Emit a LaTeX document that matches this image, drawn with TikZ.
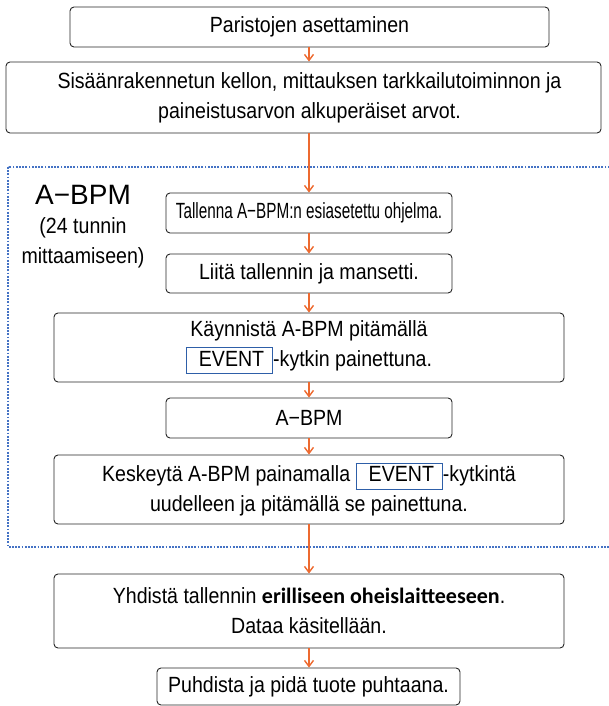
\documentclass[tikz,border=0pt]{standalone}
\usepackage{fontspec}
\setmainfont{Liberation Sans}[FakeStretch=0.89]
\newfontfamily\plainfam{Liberation Sans}
\newfontfamily\boldfam{Carlito}
\usetikzlibrary{arrows.meta}
\definecolor{arr}{RGB}{237,106,48}
\definecolor{dotblue}{RGB}{68,114,196}
\definecolor{evblue}{RGB}{46,95,168}
\newcommand{\evbox}{{\setlength\fboxsep{0pt}\setlength\fboxrule{1pt}\fcolorbox{evblue}{white}{\rule[-7pt]{0pt}{25pt}\hspace{12pt}EVENT\hspace{8pt}}}}
\tikzset{
  box/.style={draw=black!85, line width=0.9pt, rounded corners=4pt, fill=white, align=center, inner sep=0pt, font=\fontsize{22}{30}\selectfont},
  flow/.style={draw=arr, line width=1.6pt, -{Straight Barb[length=6pt,width=9pt,line width=1.4pt]}},
  lbl/.style={align=center, inner sep=0pt}
}
\begin{document}
\begin{tikzpicture}[x=1pt,y=-1pt]
\useasboundingbox (0,0) rectangle (609,706);
\draw[dotblue, line width=2pt, dash pattern=on 1.8pt off 1.4pt] (8,167) rectangle (660,547);

\node[box, minimum width=479pt, minimum height=40pt] (b1) at (309.5,27) {Paristojen asettaminen};
\node[box, minimum width=595pt, minimum height=71pt] (b2) at (303.5,97.5) {\hspace*{12pt}Sisäänrakennetun kellon, mittauksen tarkkailutoiminnon ja\\\hspace*{12pt}paineistusarvon alkuperäiset arvot.};
\node[box, minimum width=286pt, minimum height=40pt] (b3) at (309,213) {\scalebox{0.78}[1]{Tallenna A−BPM:n esiasetettu ohjelma.}};
\node[box, minimum width=286pt, minimum height=39pt] (b4) at (309,273.5) {Liitä tallennin ja mansetti.};
\node[box, minimum width=510pt, minimum height=69pt] (b5) at (309,347.5) {Käynnistä A-BPM pitämällä\\\evbox-kytkin painettuna.};
\node[box, minimum width=286pt, minimum height=40pt] (b6) at (309,418) {A−BPM};
\node[box, minimum width=510pt, minimum height=69pt] (b7) at (309,489.5) {Keskeytä A-BPM painamalla \evbox-kytkintä\\uudelleen ja pitämällä se painettuna.};
\node[box, minimum width=510pt, minimum height=74pt] (b8) at (309,611) {Yhdistä tallennin {\boldfam\bfseries\fontsize{22}{30}\selectfont erilliseen oheislaitteeseen}.\\Dataa käsitellään.};
\node[box, minimum width=303pt, minimum height=37pt] (b9) at (308.5,686.5) {Puhdista ja pidä tuote puhtaana.};

\node[lbl, font=\plainfam\fontsize{28}{30}\selectfont] (t1) at (83,195) {A−BPM};
\node[lbl, font=\fontsize{22}{30}\selectfont] (t2) at (83,243) {(24 tunnin\\mittaamiseen)};

\draw[flow] (b1.south -| 309,0) -- (b2.north -| 309,0);
\draw[flow] (b2.south -| 309,0) -- (b3.north);
\draw[flow] (b3) -- (b4);
\draw[flow] (b4) -- (b5);
\draw[flow] (b5) -- (b6);
\draw[flow] (b6) -- (b7);
\draw[flow] (b7) -- (b8);
\draw[flow] (b8.south -| 309,0) -- (b9.north -| 309,0);
\end{tikzpicture}
\end{document}
